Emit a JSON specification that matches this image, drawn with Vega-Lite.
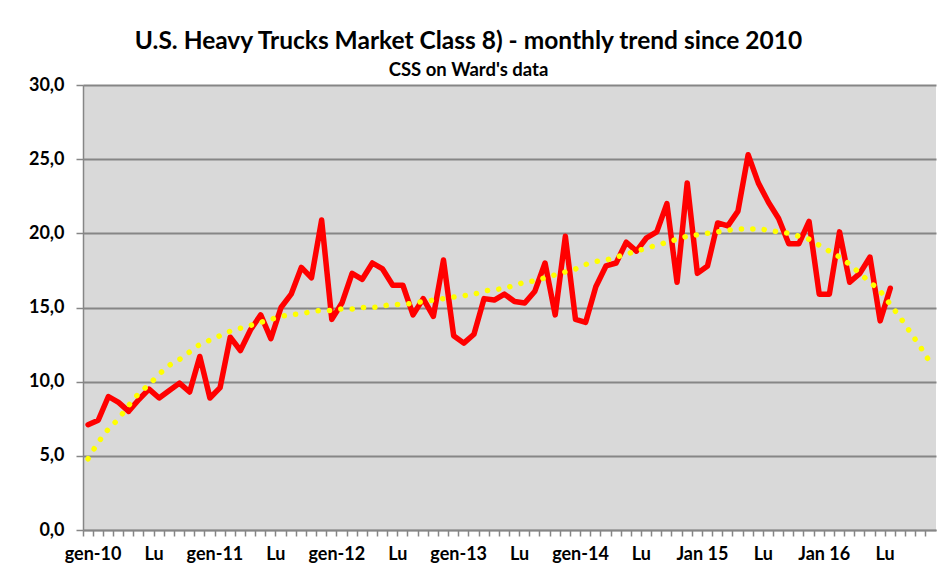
{
  "$schema": "https://vega.github.io/schema/vega-lite/v6.json",
  "width": 853,
  "height": 445,
  "autosize": "none",
  "padding": {"left": 83, "top": 85, "right": 16, "bottom": 46},
  "background": "white",
  "title": {
    "text": "U.S. Heavy Trucks Market Class 8) - monthly trend since 2010",
    "subtitle": "CSS on Ward's data",
    "anchor": "middle",
    "frame": "group",
    "dx": -41,
    "offset": -4,
    "font": "Lato",
    "fontSize": 24.5,
    "fontWeight": "bold",
    "color": "black",
    "subtitleFont": "Lato",
    "subtitleFontSize": 18.5,
    "subtitleFontWeight": "bold",
    "subtitleColor": "black",
    "subtitlePadding": 6
  },
  "data": {
    "values": [
      {"m": "2010-01", "v": 7.1, "t": 4.8}, {"m": "2010-02", "v": 7.4, "t": 5.9}, {"m": "2010-03", "v": 9.0, "t": 6.8}, {"m": "2010-04", "v": 8.6, "t": 7.5}, {"m": "2010-05", "v": 8.0, "t": 8.4}, {"m": "2010-06", "v": 8.8, "t": 9.2}, {"m": "2010-07", "v": 9.5, "t": 9.8}, {"m": "2010-08", "v": 8.9, "t": 10.5}, {"m": "2010-09", "v": 9.4, "t": 11.1}, {"m": "2010-10", "v": 9.9, "t": 11.5}, {"m": "2010-11", "v": 9.3, "t": 12.0}, {"m": "2010-12", "v": 11.7, "t": 12.5},
      {"m": "2011-01", "v": 8.9, "t": 12.8}, {"m": "2011-02", "v": 9.6, "t": 13.1}, {"m": "2011-03", "v": 13.0, "t": 13.4}, {"m": "2011-04", "v": 12.1, "t": 13.6}, {"m": "2011-05", "v": 13.5, "t": 13.8}, {"m": "2011-06", "v": 14.5, "t": 14.0}, {"m": "2011-07", "v": 12.9, "t": 14.2}, {"m": "2011-08", "v": 15.0, "t": 14.4}, {"m": "2011-09", "v": 15.9, "t": 14.5}, {"m": "2011-10", "v": 17.7, "t": 14.6}, {"m": "2011-11", "v": 17.0, "t": 14.7}, {"m": "2011-12", "v": 20.9, "t": 14.8},
      {"m": "2012-01", "v": 14.2, "t": 14.8}, {"m": "2012-02", "v": 15.3, "t": 14.9}, {"m": "2012-03", "v": 17.3, "t": 14.9}, {"m": "2012-04", "v": 16.9, "t": 15.0}, {"m": "2012-05", "v": 18.0, "t": 15.0}, {"m": "2012-06", "v": 17.6, "t": 15.1}, {"m": "2012-07", "v": 16.5, "t": 15.2}, {"m": "2012-08", "v": 16.5, "t": 15.2}, {"m": "2012-09", "v": 14.5, "t": 15.3}, {"m": "2012-10", "v": 15.6, "t": 15.4}, {"m": "2012-11", "v": 14.4, "t": 15.5}, {"m": "2012-12", "v": 18.2, "t": 15.6},
      {"m": "2013-01", "v": 13.1, "t": 15.7}, {"m": "2013-02", "v": 12.6, "t": 15.8}, {"m": "2013-03", "v": 13.2, "t": 15.9}, {"m": "2013-04", "v": 15.6, "t": 16.1}, {"m": "2013-05", "v": 15.5, "t": 16.2}, {"m": "2013-06", "v": 15.9, "t": 16.3}, {"m": "2013-07", "v": 15.4, "t": 16.5}, {"m": "2013-08", "v": 15.3, "t": 16.7}, {"m": "2013-09", "v": 16.1, "t": 16.8}, {"m": "2013-10", "v": 18.0, "t": 17.0}, {"m": "2013-11", "v": 14.5, "t": 17.2}, {"m": "2013-12", "v": 19.8, "t": 17.4},
      {"m": "2014-01", "v": 14.2, "t": 17.6}, {"m": "2014-02", "v": 14.0, "t": 17.9}, {"m": "2014-03", "v": 16.4, "t": 18.1}, {"m": "2014-04", "v": 17.8, "t": 18.2}, {"m": "2014-05", "v": 18.0, "t": 18.4}, {"m": "2014-06", "v": 19.4, "t": 18.6}, {"m": "2014-07", "v": 18.8, "t": 18.8}, {"m": "2014-08", "v": 19.7, "t": 19.0}, {"m": "2014-09", "v": 20.1, "t": 19.2}, {"m": "2014-10", "v": 22.0, "t": 19.4}, {"m": "2014-11", "v": 16.7, "t": 19.6}, {"m": "2014-12", "v": 23.4, "t": 19.8},
      {"m": "2015-01", "v": 17.3, "t": 19.9}, {"m": "2015-02", "v": 17.8, "t": 20.0}, {"m": "2015-03", "v": 20.7, "t": 20.1}, {"m": "2015-04", "v": 20.5, "t": 20.2}, {"m": "2015-05", "v": 21.5, "t": 20.3}, {"m": "2015-06", "v": 25.3, "t": 20.3}, {"m": "2015-07", "v": 23.4, "t": 20.3}, {"m": "2015-08", "v": 22.1, "t": 20.2}, {"m": "2015-09", "v": 21.0, "t": 20.1}, {"m": "2015-10", "v": 19.3, "t": 20.0}, {"m": "2015-11", "v": 19.3, "t": 19.8}, {"m": "2015-12", "v": 20.8, "t": 19.6},
      {"m": "2016-01", "v": 15.9, "t": 19.2}, {"m": "2016-02", "v": 15.9, "t": 18.8}, {"m": "2016-03", "v": 20.1, "t": 18.4}, {"m": "2016-04", "v": 16.7, "t": 17.9}, {"m": "2016-05", "v": 17.3, "t": 17.3}, {"m": "2016-06", "v": 18.4, "t": 16.7}, {"m": "2016-07", "v": 14.1, "t": 16.1}, {"m": "2016-08", "v": 16.3, "t": 15.2}, {"m": "2016-09", "v": null, "t": 14.3}, {"m": "2016-10", "v": null, "t": 13.3}, {"m": "2016-11", "v": null, "t": 12.3}, {"m": "2016-12", "v": null, "t": 11.2}
    ]
  },
  "encoding": {
    "x": {
      "field": "m",
      "type": "ordinal",
      "title": null,
      "scale": {"type": "band", "paddingInner": 0, "paddingOuter": 0},
      "axis": {
        "bandPosition": 0,
        "labelOffset": 5,
        "labelAngle": 0,
        "labelOverlap": false,
        "labelFlush": false,
        "labelExpr": "slice(datum.value,5)=='07' ? 'Lu' : slice(datum.value,5)=='01' ? (slice(datum.value,2,4) >= '15' ? 'Jan ' + slice(datum.value,2,4) : 'gen-' + slice(datum.value,2,4)) : ''",
        "labelFont": "Lato",
        "labelFontSize": 18,
        "labelFontWeight": "bold",
        "labelColor": "black",
        "labelPadding": 9,
        "tickSize": 6,
        "tickColor": "#868686",
        "tickWidth": 1.5,
        "domainColor": "#868686",
        "domainWidth": 1.5,
        "grid": false
      }
    },
    "y": {
      "type": "quantitative",
      "title": null,
      "scale": {"domain": [0, 30], "nice": false},
      "axis": {
        "values": [0, 5, 10, 15, 20, 25, 30],
        "labelExpr": "replace(format(datum.value, '.1f'), '.', ',')",
        "labelFont": "Lato",
        "labelFontSize": 18,
        "labelFontWeight": "bold",
        "labelColor": "black",
        "labelPadding": 12,
        "tickSize": 7,
        "tickColor": "#868686",
        "tickWidth": 1.5,
        "domainColor": "#868686",
        "domainWidth": 1.5,
        "grid": true,
        "gridColor": "#868686",
        "gridWidth": 1.8
      }
    }
  },
  "layer": [
    {
      "mark": {"type": "line", "color": "#ff0000", "strokeWidth": 5.5, "strokeJoin": "round", "strokeCap": "round"},
      "encoding": {"y": {"field": "v", "type": "quantitative"}}
    },
    {
      "mark": {"type": "line", "color": "#ffff00", "strokeWidth": 5.5, "strokeDash": [0.1, 11.3], "strokeCap": "round", "interpolate": "monotone"},
      "encoding": {"y": {"field": "t", "type": "quantitative"}}
    }
  ],
  "config": {
    "view": {"fill": "#d9d9d9", "stroke": null}
  }
}
